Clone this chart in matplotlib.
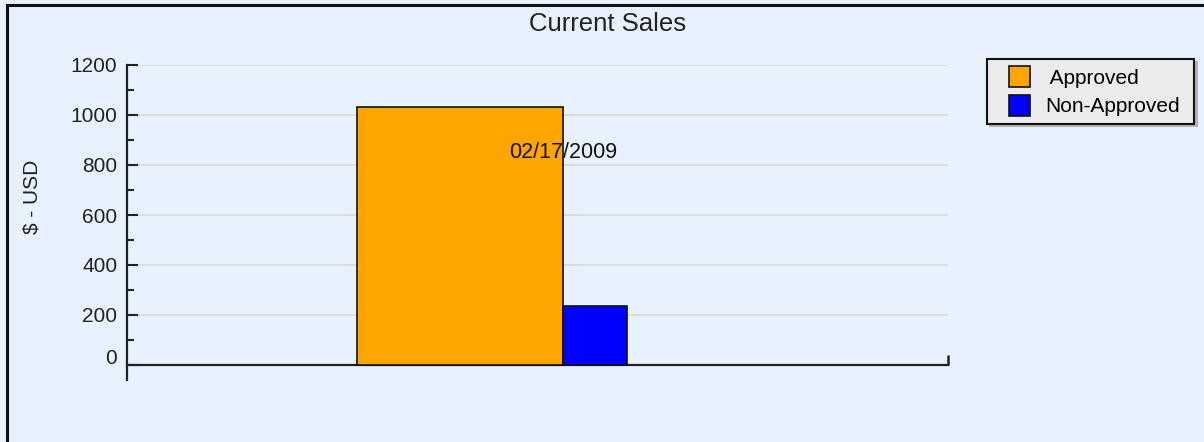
import matplotlib
matplotlib.use("Agg")
import matplotlib.pyplot as plt
import matplotlib.patches as mpatches
import matplotlib.transforms as mtransforms
from matplotlib.container import BarContainer
from matplotlib.legend_handler import HandlerPatch
import numpy as np

plt.rcParams["font.family"] = ["Liberation Sans", "DejaVu Sans"]

# data
categories = ["02/17/2009"]
series = ["Approved", "Non-Approved"]
approved = [1032]
non_approved = [237]

BG = "#E8F2FE"
COLORS = {"Approved": "#FFA500", "Non-Approved": "#0000FF"}

W, H = 1204, 442
fig = plt.figure(figsize=(W / 100, H / 100), dpi=100, facecolor=BG)

# axes placed in pixels: x 127..948, y 65..380
ax = fig.add_axes([127 / W, 1 - 380 / H, 821 / W, 315 / H])
ax.set_facecolor(BG)

x = np.arange(len(categories))
blue_w = 64 / 206
ax.bar(x - 0.5, approved, width=1.0, color=COLORS["Approved"],
       edgecolor="#111111", linewidth=1.2, label=" " + series[0], zorder=3)
ax.bar(x, non_approved, width=blue_w, align="edge", color=COLORS["Non-Approved"],
       edgecolor="#111111", linewidth=1.2, label=series[1], zorder=3)

for xi, cat in zip(x, categories):
    ax.text(xi, 848, cat, ha="center", va="center", fontsize=15.5,
            color="#111111", zorder=4)

xmin, xmax = -436 / 206, 385 / 206
ax.set_xlim(xmin, xmax)
ax.set_ylim(-60, 1200)

ax.set_yticks(np.arange(0, 1201, 200))
ax.set_yticks(np.arange(100, 1200, 200), minor=True)
ax.yaxis.grid(True, which="major", color="#DCDCDC", linewidth=1.5, zorder=0)
ax.set_axisbelow(True)
ax.tick_params(axis="y", which="major", direction="in", length=8, width=1.5,
               pad=7, labelsize=15, labelcolor="#222222", color="#222222")
ax.tick_params(axis="y", which="minor", direction="in", length=5, width=1.5,
               color="#222222")

ax.set_xticks([xmax])
ax.tick_params(axis="x", direction="in", length=7, width=1.8,
               labelbottom=False, color="#222222")

for s in ["top", "right"]:
    ax.spines[s].set_visible(False)
ax.spines["bottom"].set_position(("data", 0))
for s in ["left", "bottom"]:
    ax.spines[s].set_color("#222222")
    ax.spines[s].set_linewidth(1.6)

fig.text(608 / W, 1 - 24 / H, "Current Sales", ha="center", va="center",
         fontsize=18.5, color="#222222")
fig.text(32 / W, 1 - 197 / H, "$ - USD", ha="center", va="center",
         rotation=90, fontsize=15, color="#222222")


def square_patch(legend, orig_handle, xdescent, ydescent, width, height, fontsize):
    # small square at the right end of the handle box
    side = min(height, width)
    return mpatches.Rectangle((-xdescent + width - side, -ydescent), side, height)


def copy_style(legend_handle, orig_handle):
    legend_handle.update_from(orig_handle.patches[0])


leg = fig.legend(loc="upper left",
                 bbox_to_anchor=(987 / W, 1 - 126 / H, 207 / W, 67 / H),
                 mode="expand", fontsize=15, frameon=True, fancybox=False,
                 shadow={"color": "#B4B4B4", "alpha": 1.0},
                 handler_map={BarContainer: HandlerPatch(patch_func=square_patch,
                                                         update_func=copy_style)},
                 handlelength=1.7, handleheight=1.15, handletextpad=0.75,
                 labelspacing=0.35, borderpad=0.35, borderaxespad=0)
leg.get_frame().set_facecolor("#EBEBEB")
leg.get_frame().set_edgecolor("#111111")
leg.get_frame().set_linewidth(1.5)
leg.get_frame().set_alpha(1.0)

# outer border (top and left visible)
fig.patches.append(mpatches.Rectangle((7 / W, -0.1), 1.2, 1 - 5 / H + 0.1,
                                      transform=fig.transFigure, fill=False,
                                      edgecolor="#111111", linewidth=2.2))

# the "0" label sits a little above its tick in the original
fig.canvas.draw()
zero_label = ax.yaxis.get_major_ticks()[0].label1
zero_label.set_transform(zero_label.get_transform()
                         + mtransforms.ScaledTranslation(0, 8 / 100, fig.dpi_scale_trans))

fig.savefig("out.png", dpi=100, facecolor=BG)
